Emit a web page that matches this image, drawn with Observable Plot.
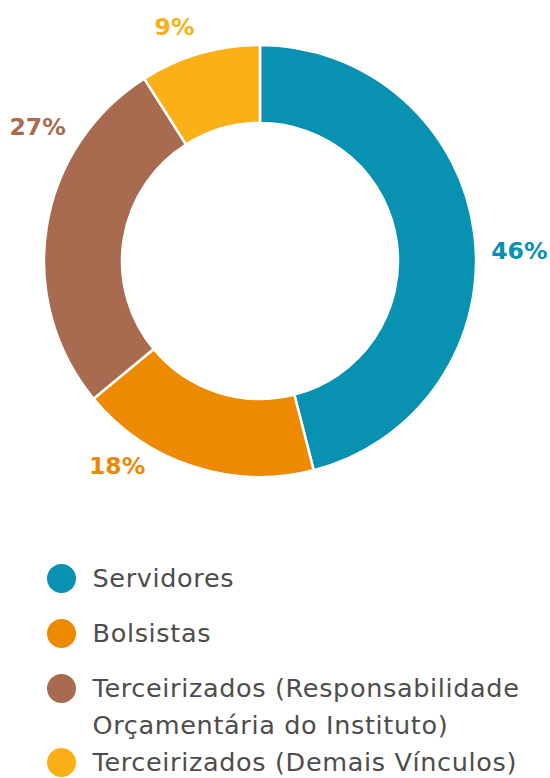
<!DOCTYPE html>
<html>
<head>
<meta charset="utf-8">
<script src="https://cdn.jsdelivr.net/npm/d3@7"></script>
<script src="https://cdn.jsdelivr.net/npm/@observablehq/plot@0.6"></script>
<style>
  html, body { margin: 0; padding: 0; background: #ffffff; }
  #chart svg { display: block; }
</style>
</head>
<body>
<div id="chart"></div>
<script>
// ---- data ----
const categories = ["Servidores", "Bolsistas", "Terceirizados (Responsabilidade Orçamentária do Instituto)", "Terceirizados (Demais Vínculos)"];
const shares = [46, 18, 27, 9];
const shareLabels = ["46%", "18%", "27%", "9%"];
const colors = ["#0891B1", "#EE8902", "#A96B4F", "#FBB017"];
const legendLines = [["Servidores"], ["Bolsistas"], ["Terceirizados (Responsabilidade", "Orçamentária do Instituto)"], ["Terceirizados (Demais Vínculos)"]];

// ---- layout ----
const W = 550, H = 778;
const cx = 260, cy = 261, rOuter = 216, rInner = 138;
const labelRadius = [259, 250, 260, 249];
const labelAngleShift = [5, 17, 22, -4]; // degrees relative to slice midpoint

const pie = d3.pie().sort(null).value(d => d)(shares);
const slices = pie.map((p, i) => ({
  category: categories[i], value: shares[i], label: shareLabels[i], color: colors[i],
  start: p.startAngle, end: p.endAngle
}));
const labels = slices.map((s, i) => {
  const a = (s.start + s.end) / 2 + labelAngleShift[i] * Math.PI / 180;
  return {label: s.label, color: s.color, x: cx + labelRadius[i] * Math.sin(a), y: cy - labelRadius[i] * Math.cos(a)};
});

const legendRows = [];
let ly = 578;
legendLines.forEach((lines, i) => {
  lines.forEach((t, j) => {
    legendRows.push({text: t, y: ly, first: j === 0, color: colors[i]});
    ly += (j < lines.length - 1 || i >= 2) ? 37 : 55;
  });
});

const donut = (index, scales) => {
  const arc = d3.arc().innerRadius(rInner).outerRadius(rOuter);
  const g = d3.create("svg:g")
    .attr("transform", `translate(${scales.x(cx)},${scales.y(cy)})`);
  g.selectAll("path").data(slices).join("path")
    .attr("d", d => arc({startAngle: d.start, endAngle: d.end}))
    .attr("fill", d => d.color)
    .attr("stroke", "#ffffff")
    .attr("stroke-width", 2.5)
    .attr("stroke-linejoin", "miter");
  return g.node();
};

const chart = Plot.plot({
  width: W,
  height: H,
  margin: 0,
  x: {domain: [0, W], range: [0, W], axis: null},
  y: {domain: [0, H], range: [0, H], axis: null},
  style: {background: "#ffffff"},
  marks: [
    donut,
    Plot.text(labels, {
      x: "x", y: "y", text: "label", fill: d => d.color,
      fontSize: 23.5, fontWeight: "bold", fontFamily: "DejaVu Sans, sans-serif",
      textAnchor: "middle"
    }),
    Plot.dot(legendRows.filter(d => d.first), {
      x: 61, y: "y", r: 14.5, fill: d => d.color, stroke: null
    }),
    Plot.text(legendRows, {
      x: 92, y: "y", text: "text", textAnchor: "start",
      fontSize: 25.5, fontFamily: "DejaVu Sans, sans-serif", fill: "#4d4d4d"
    })
  ]
});

// widen legend lettering slightly to match the reference typeface
const legendTexts = new Set(legendRows.map(d => d.text));
d3.select(chart).selectAll("text")
  .filter(function() { return legendTexts.has(this.textContent); })
  .attr("letter-spacing", "0.65px");

document.getElementById("chart").appendChild(chart);
</script>
</body>
</html>
